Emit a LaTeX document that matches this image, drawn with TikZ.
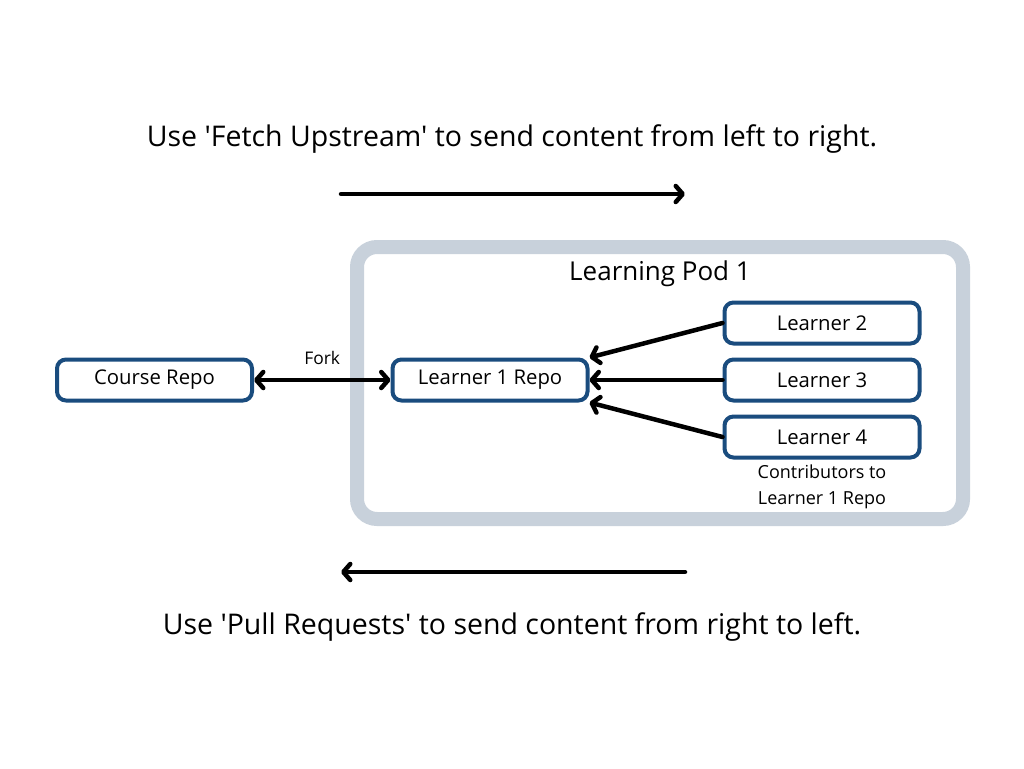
\documentclass[tikz,border=0pt]{standalone}
\usepackage{fontspec}
\setmainfont{Open Sans}[Ligatures=TeXOff]
\usetikzlibrary{positioning,arrows.meta}
\definecolor{repoblue}{HTML}{1A4C7E}
\definecolor{podgray}{HTML}{C8D1DB}
\begin{document}
\begin{tikzpicture}[x=1pt, y=-1pt,
	repobox/.style={draw=repoblue, line width=4pt, rounded corners=9pt, fill=white,
		minimum width=195pt, minimum height=41pt, inner sep=0pt,
		font=\fontsize{20.3}{24}\selectfont},
	flow/.style={line width=4.5pt, line cap=round,
		-{Straight Barb[length=7pt,width=16pt,round]}},
	caption/.style={font=\fontsize{28.5}{34}\selectfont}]
	\useasboundingbox[fill=white] (0,0) rectangle (1024,768);
	%pod
	\node[draw=podgray, line width=14pt, rounded corners=20pt,
		minimum width=606pt, minimum height=272pt] (pod) at (660,383) {};
	\node[below=17pt of pod.north, font=\fontsize{26}{30}\selectfont] (pod title) {Learning Pod 1};
	%repos
	\node[repobox] (course) at (154.5,380) {Course Repo};
	\node[repobox] (learner1) at (490,380) {Learner 1 Repo};
	\node[repobox] (learner3) at (822,380) {Learner 3};
	\node[repobox, above=12pt of learner3] (learner2) {Learner 2};
	\node[repobox, below=12pt of learner3] (learner4) {Learner 4};
	\node[below=2pt of learner4, align=center, font=\fontsize{18}{26}\selectfont]
		(contrib) {Contributors to\\Learner 1 Repo};
	%connectors
	\draw[flow, {Straight Barb[length=7pt,width=16pt,round]}-{Straight Barb[length=7pt,width=16pt,round]}]
		(course) -- node[above=10pt, font=\fontsize{17.4}{20}\selectfont] (fork) {Fork} (learner1);
	\draw[flow] (learner2.west) -- (learner1.north east);
	\draw[flow] (learner3.west) -- (learner1.east);
	\draw[flow] (learner4.west) -- (learner1.south east);
	%directions
	\node[caption] (fetch text) at (512,139) {Use 'Fetch Upstream' to send content from left to right.};
	\coordinate (fetch start) at (341,194);
	\coordinate (fetch end) at (685,194);
	\draw[flow] (fetch start) -- (fetch end);
	\coordinate (pull start) at (685,572);
	\coordinate (pull end) at (341,572);
	\draw[flow] (pull start) -- (pull end);
	\node[caption] (pull text) at (512,627) {Use 'Pull Requests' to send content from right to left.};
\end{tikzpicture}
\end{document}
